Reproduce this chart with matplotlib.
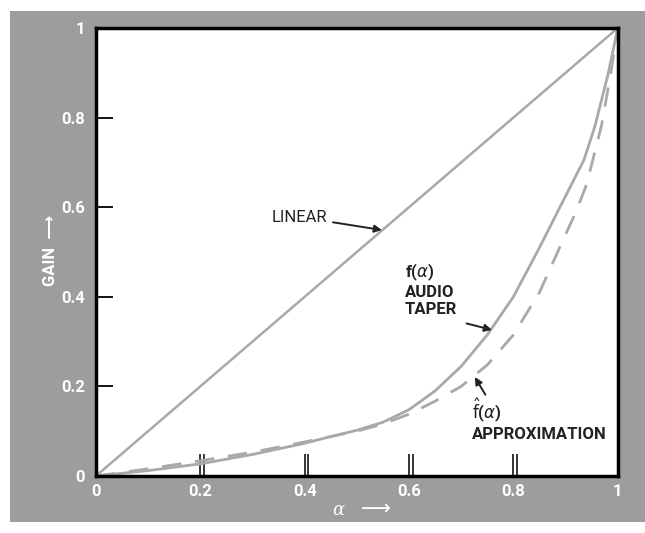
import matplotlib.pyplot as plt
from matplotlib.patches import Rectangle
from matplotlib import font_manager

names = {f.name for f in font_manager.fontManager.ttflist}
NARROW = 'Liberation Sans Narrow' if 'Liberation Sans Narrow' in names else 'Roboto'
FONT = [NARROW, 'DejaVu Sans']
GRAY_BG = '#9d9d9d'
CURVE = '#a9a9a9'

# values
linear_x = [0, 1]
linear_y = [0, 1]
taper_x = [0, 0.1, 0.2, 0.3, 0.4, 0.45, 0.5, 0.55, 0.6, 0.65, 0.7, 0.75, 0.8, 0.85,
           0.9, 0.935, 0.956, 0.981, 1.0]
taper_y = [0, 0.012, 0.027, 0.048, 0.073, 0.088, 0.102, 0.12, 0.148, 0.19, 0.245, 0.315,
           0.40, 0.51, 0.625, 0.705, 0.78, 0.895, 1.0]
approx_x = [0, 0.1, 0.2, 0.3, 0.4, 0.5, 0.55, 0.6, 0.65, 0.7, 0.75, 0.8, 0.85, 0.889,
            0.92, 0.94, 0.969, 0.986, 1.0]
approx_y = [0, 0.016, 0.034, 0.053, 0.076, 0.1, 0.116, 0.138, 0.167, 0.2, 0.248, 0.315,
            0.41, 0.511, 0.59, 0.65, 0.783, 0.895, 1.0]

ticks = [0, 0.2, 0.4, 0.6, 0.8, 1]
tick_labels = ['0', '0.2', '0.4', '0.6', '0.8', '1']

fig = plt.figure(figsize=(6.45, 5.33), dpi=100, facecolor='white')
fig.patches.append(Rectangle((0.015, 0.02), 0.985, 0.96, transform=fig.transFigure,
                             facecolor=GRAY_BG, edgecolor='none', zorder=-1))

ax = fig.add_axes([0.1488, 0.107, 0.809, 0.8405])
ax.set_zorder(2)
ax.set_facecolor('white')
ax.plot(linear_x, linear_y, color=CURVE, lw=1.8)
ax.plot(taper_x, taper_y, color=CURVE, lw=2)
ax.plot(approx_x, approx_y, color=CURVE, lw=2, dashes=(7, 5))
ax.set_xlim(0, 1)
ax.set_ylim(0, 1)

for s in ax.spines.values():
    s.set_linewidth(2.5)
    s.set_color('black')

ax.set_xticks(ticks)
ax.set_xticklabels(tick_labels)
ax.set_yticks(ticks)
ax.set_yticklabels(tick_labels)
ax.set_xticks([t + 0.007 for t in ticks[1:-1]], minor=True)
ax.tick_params(axis='x', which='both', direction='in', length=16, width=1.1,
               colors='black', labelcolor='white', labelsize=12, pad=6)
ax.tick_params(axis='y', direction='in', length=12, width=1.3,
               colors='black', labelcolor='white', labelsize=12, pad=8)
for lab in ax.get_xticklabels() + ax.get_yticklabels():
    lab.set_family(FONT)
    lab.set_weight('bold')

fig.text(0.078, 0.53, 'GAIN  \u27f6', rotation=90, color='white', fontsize=12,
         family=FONT, weight='bold', ha='center', va='center')
fig.text(0.524, 0.043, '\u03b1', color='white', fontsize=13,
         family='DejaVu Serif', style='italic', ha='center', va='center')
fig.text(0.583, 0.045, '\u27f6', color='white', fontsize=15,
         family='DejaVu Sans', ha='center', va='center')

txt = dict(family=FONT, fontsize=12, color='#222222')
arrow = dict(arrowstyle='-|>', color='#222222', lw=1.4, mutation_scale=11,
             shrinkA=2, shrinkB=0)

ax.annotate('LINEAR', xy=(0.548, 0.549), xytext=(0.337, 0.578),
            va='center', ha='left', arrowprops=arrow, **txt)
ax.text(0.592, 0.478, r'f($\alpha$)' + '\nAUDIO\nTAPER', va='top', ha='left',
        linespacing=1.15, weight='bold', **txt)
ax.annotate('', xy=(0.759, 0.326), xytext=(0.705, 0.342), arrowprops=arrow)
ax.text(0.72, 0.176, r'$\hat{\mathrm{f}}$($\alpha$)' + '\nAPPROXIMATION', va='top',
        ha='left', linespacing=1.15, weight='bold', **txt)
ax.annotate('', xy=(0.726, 0.221), xytext=(0.749, 0.176), arrowprops=arrow)

fig.savefig('out.png', dpi=100, facecolor=fig.get_facecolor())
